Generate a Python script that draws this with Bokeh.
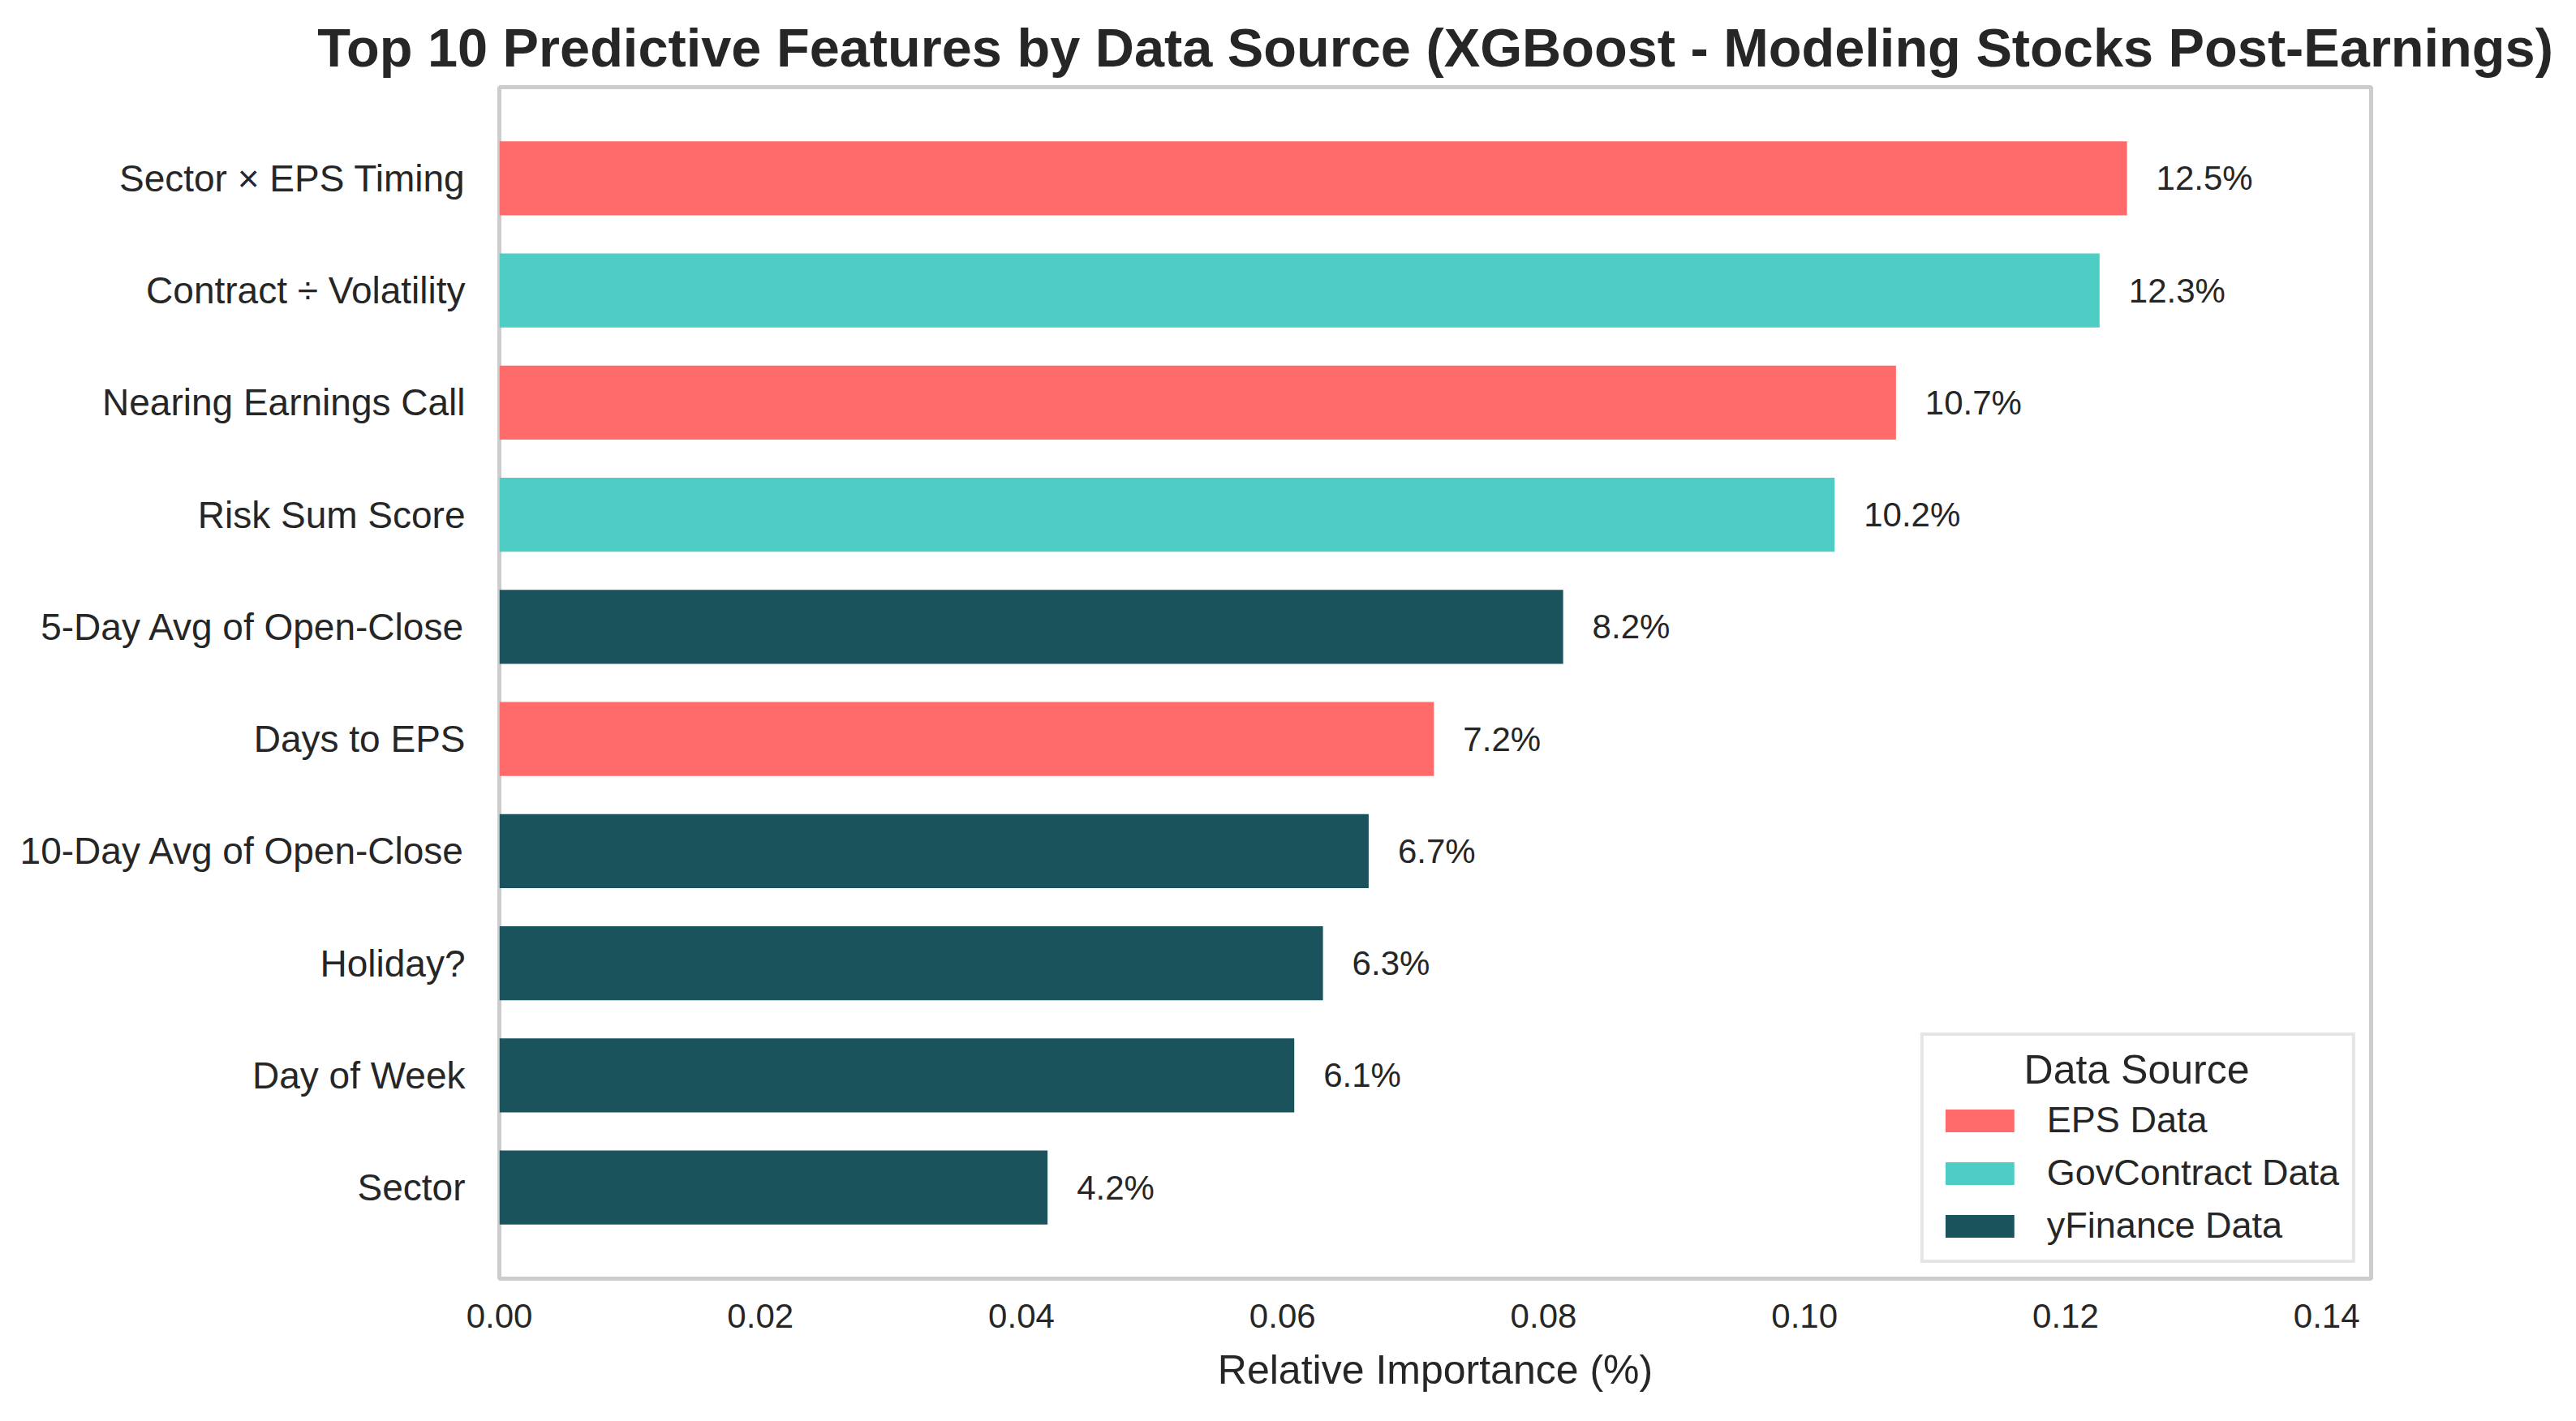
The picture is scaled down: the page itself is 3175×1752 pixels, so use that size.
from bokeh.plotting import figure
from bokeh.models import (ColumnDataSource, FactorRange, Range1d, Legend, LegendItem,
                          FixedTicker, NumeralTickFormatter, Label)
from bokeh.embed import file_html
from bokeh.resources import INLINE
from bokeh.core.properties import value

# ---- data ----
features = ["Sector × EPS Timing", "Contract ÷ Volatility", "Nearing Earnings Call",
            "Risk Sum Score", "5-Day Avg of Open-Close", "Days to EPS",
            "10-Day Avg of Open-Close", "Holiday?", "Day of Week", "Sector"]
importance = [0.1247, 0.1226, 0.1070, 0.1023, 0.0815, 0.0716, 0.0666, 0.0631, 0.0609, 0.0420]
sources = ["EPS Data", "GovContract Data", "EPS Data", "GovContract Data", "yFinance Data",
           "EPS Data", "yFinance Data", "yFinance Data", "yFinance Data", "yFinance Data"]
source_names = ["EPS Data", "GovContract Data", "yFinance Data"]
source_colors = ["#FF6B6B", "#4ECDC4", "#1A535C"]
x_ticks = [0.00, 0.02, 0.04, 0.06, 0.08, 0.10, 0.12, 0.14]
legend_title = "Data Source"

FONT = "Liberation Sans"
TXT = "#262626"

p = figure(width=3175, height=1752,
           y_range=FactorRange(factors=features[::-1], range_padding=0.313,
                               range_padding_units="absolute"),
           x_range=Range1d(0, max(importance) * 1.15),
           output_backend="svg", toolbar_location=None,
           min_border_left=615, min_border_right=253,
           min_border_top=107, min_border_bottom=176)

items = []
for name, color in zip(source_names, source_colors):
    idx = [i for i, s in enumerate(sources) if s == name]
    src = ColumnDataSource(dict(feature=[features[i] for i in idx],
                                importance=[importance[i] for i in idx]))
    r = p.hbar(y="feature", right="importance", left=0, height=0.66, source=src,
               fill_color=color, line_color=None)
    items.append(LegendItem(label=name, renderers=[r]))

lab_src = ColumnDataSource(dict(feature=features, importance=importance,
                                label=[f"{v*100:.1f}%" for v in importance]))
p.text(x="importance", y="feature", text="label", source=lab_src, x_offset=36,
       text_baseline="middle", text_align="left", text_font_size="42px",
       text_font=value(FONT), text_color=TXT)

# title
p.title.text = "Top 10 Predictive Features by Data Source (XGBoost - Modeling Stocks Post-Earnings)"
p.title.text_font = FONT
p.title.text_font_size = "66.7px"
p.title.text_font_style = "bold"
p.title.text_color = TXT
p.title.align = "center"
p.title.standoff = 24

# frame
p.outline_line_color = "#cccccc"
p.outline_line_width = 5
p.xgrid.visible = False
p.ygrid.visible = False
p.background_fill_color = "white"

# axes
for ax in (p.xaxis[0], p.yaxis[0]):
    ax.axis_line_color = None
    ax.major_tick_line_color = None
    ax.minor_tick_line_color = None
    ax.major_tick_out = 0
    ax.major_tick_in = 0
    ax.major_label_text_font = FONT
    ax.major_label_text_color = TXT

p.xaxis.ticker = FixedTicker(ticks=x_ticks)
p.xaxis.formatter = NumeralTickFormatter(format="0.00")
p.xaxis.major_label_text_font_size = "42px"
p.xaxis.major_label_standoff = 31
p.xaxis.axis_label = "Relative Importance (%)"
p.xaxis.axis_label_text_font = FONT
p.xaxis.axis_label_text_font_size = "50px"
p.xaxis.axis_label_text_font_style = "normal"
p.xaxis.axis_label_text_color = TXT
p.xaxis.axis_label_standoff = 21

p.yaxis.major_label_text_font_size = "46px"
p.yaxis.major_label_standoff = 42

# centered legend title drawn as a Label underneath a transparent legend box
p.add_layout(Label(x=2018, y=258, x_units="screen", y_units="screen",
                   text=legend_title, text_align="center", text_baseline="alphabetic",
                   text_font=FONT, text_font_size="50px", text_color=TXT))

legend = Legend(items=items, location="bottom_right", title=" ",
                title_text_font=FONT, title_text_font_size="50px",
                title_text_color=TXT, title_text_font_style="normal",
                title_standoff=4,
                label_text_font=FONT, label_text_font_size="45px", label_text_color=TXT,
                glyph_width=106, glyph_height=35, label_standoff=30, label_height=50,
                spacing=13, padding=16, margin=19,
                border_line_color="#cccccc", border_line_width=4,
                background_fill_alpha=0.0)
p.add_layout(legend)

open("out.html", "w").write(file_html(p, INLINE))
